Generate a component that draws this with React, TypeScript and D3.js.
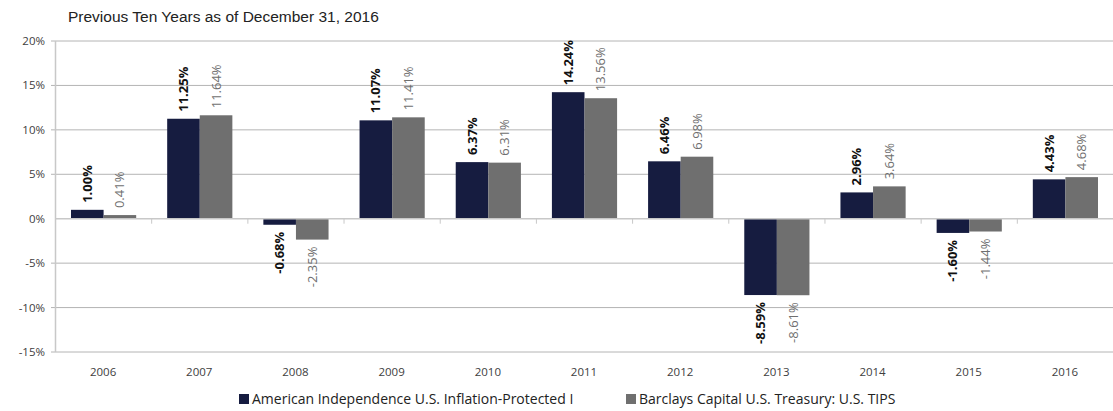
import React, { useEffect, useRef } from 'react';
import * as d3 from 'd3';

const years = ['2006', '2007', '2008', '2009', '2010', '2011', '2012', '2013', '2014', '2015', '2016'];
const fundValues = [1.0, 11.25, -0.68, 11.07, 6.37, 14.24, 6.46, -8.59, 2.96, -1.6, 4.43];
const indexValues = [0.41, 11.64, -2.35, 11.41, 6.31, 13.56, 6.98, -8.61, 3.64, -1.44, 4.68];
const seriesNames = ['American Independence U.S. Inflation-Protected I', 'Barclays Capital U.S. Treasury: U.S. TIPS'];
const seriesColors = ['#161c40', '#6f6f6f'];
const labelColors = ['#111111', '#6f6f6f'];
const yTicks = [20, 15, 10, 5, 0, -5, -10, -15];

const svgWidth = 1113;
const svgHeight = 411;

const App: React.FC = () => {
  const svgRef = useRef<SVGSVGElement | null>(null);

  useEffect(() => {
    const margin = { top: 41, right: 0, bottom: 59, left: 55 };
    const width = svgWidth - margin.left - margin.right;
    const height = svgHeight - margin.top - margin.bottom;

    const svg = d3.select(svgRef.current);
    svg.selectAll('*').remove();

    const x = d3.scaleBand().domain(years).range([0, width]).paddingInner(0).paddingOuter(0);
    const xs = d3.scaleBand().domain(['0', '1']).range([16, x.bandwidth() - 15]);
    const y = d3.scaleLinear().domain([-15, 20]).range([height, 0]);

    const g = svg.append('g').attr('transform', `translate(${margin.left},${margin.top})`);

    // 网格线
    g.append('g')
      .selectAll('line')
      .data(yTicks.filter((t) => t !== 0))
      .join('line')
      .attr('x1', -4)
      .attr('x2', width)
      .attr('y1', (d) => y(d))
      .attr('y2', (d) => y(d))
      .attr('stroke', '#b4b4b4')
      .attr('stroke-width', 1);

    // Y轴线
    g.append('line')
      .attr('x1', 0.5)
      .attr('x2', 0.5)
      .attr('y1', y(20))
      .attr('y2', y(-15))
      .attr('stroke', '#c8c8c8')
      .attr('stroke-width', 1.5);

    // Y轴标签
    g.append('g')
      .selectAll('text')
      .data(yTicks)
      .join('text')
      .attr('x', -10)
      .attr('y', (d) => y(d))
      .attr('dy', '0.35em')
      .attr('text-anchor', 'end')
      .attr('font-family', 'Open Sans, sans-serif')
      .attr('font-size', 11.5)
      .attr('fill', '#404040')
      .text((d) => `${d}%`);

    // 柱子
    const series = [fundValues, indexValues];
    series.forEach((vals, si) => {
      const sg = g.append('g');
      sg.selectAll('rect')
        .data(vals)
        .join('rect')
        .attr('x', (_, i) => (x(years[i]) ?? 0) + (xs(String(si)) ?? 0))
        .attr('width', xs.bandwidth())
        .attr('y', (d) => y(Math.max(0, d)))
        .attr('height', (d) => Math.abs(y(d) - y(0)))
        .attr('fill', seriesColors[si]);

      sg.selectAll('text')
        .data(vals)
        .join('text')
        .attr('transform', (d, i) => {
          const cx = (x(years[i]) ?? 0) + (xs(String(si)) ?? 0) + xs.bandwidth() / 2;
          const cy = d >= 0 ? y(d) - 7 : y(d) + 7;
          return `translate(${cx},${cy}) rotate(-90)`;
        })
        .attr('dy', '0.35em')
        .attr('text-anchor', (d) => (d >= 0 ? 'start' : 'end'))
        .attr('font-family', 'Open Sans, sans-serif')
        .attr('font-size', 13)
        .attr('font-weight', si === 0 ? 700 : 500)
        .attr('fill', labelColors[si])
        .text((d) => `${d.toFixed(2)}%`);
    });

    // X轴线(0%)
    g.append('line')
      .attr('x1', 0)
      .attr('x2', width)
      .attr('y1', y(0))
      .attr('y2', y(0))
      .attr('stroke', '#c8c8c8')
      .attr('stroke-width', 1.5);

    g.append('g')
      .selectAll('line')
      .data(years.slice(1))
      .join('line')
      .attr('x1', (d) => (x(d) ?? 0) + 0.5)
      .attr('x2', (d) => (x(d) ?? 0) + 0.5)
      .attr('y1', y(0))
      .attr('y2', y(0) + 5)
      .attr('stroke', '#c8c8c8');

    // X轴标签
    g.append('g')
      .selectAll('text')
      .data(years)
      .join('text')
      .attr('x', (d) => (x(d) ?? 0) + x.bandwidth() / 2)
      .attr('y', height + 24)
      .attr('text-anchor', 'middle')
      .attr('font-family', 'Open Sans, sans-serif')
      .attr('font-size', 11.5)
      .attr('fill', '#404040')
      .text((d) => d);

    // 标题
    svg
      .append('text')
      .attr('x', 68)
      .attr('y', 22)
      .attr('font-family', 'Liberation Sans, Arial, sans-serif')
      .attr('font-size', 15.5)
      .attr('fill', '#222')
      .text('Previous Ten Years as of December 31, 2016');

    // 图例
    const legendX = [239, 626];
    seriesNames.forEach((name, i) => {
      svg
        .append('rect')
        .attr('x', legendX[i])
        .attr('y', 394)
        .attr('width', 10)
        .attr('height', 10)
        .attr('fill', seriesColors[i]);
      svg
        .append('text')
        .attr('x', legendX[i] + 13)
        .attr('y', 404)
        .attr('font-family', 'Open Sans, sans-serif')
        .attr('font-size', 14)
        .attr('fill', '#222')
        .text(name);
    });
  }, []);

  return <svg width={svgWidth} height={svgHeight} ref={svgRef} style={{ position: 'absolute', left: 0, top: 0 }}></svg>;
};

export default App;
